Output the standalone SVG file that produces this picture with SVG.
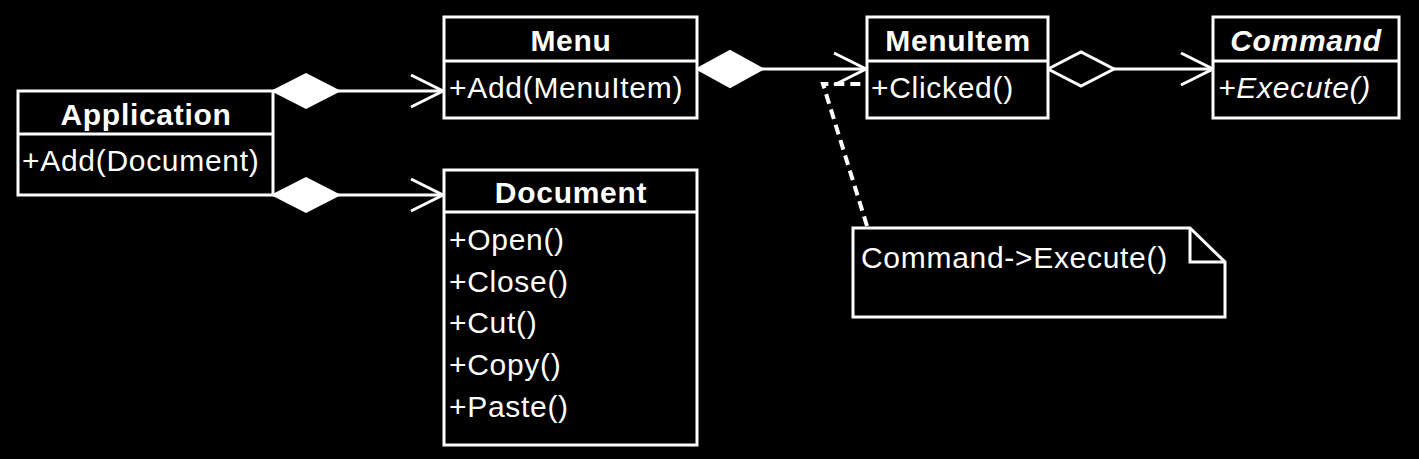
<svg xmlns="http://www.w3.org/2000/svg" width="1419" height="459" viewBox="0 0 1419 459">
<style>
.box{fill:#000;stroke:#fff;stroke-width:3}
.ln{fill:none;stroke:#fff;stroke-width:3}
.t{font-family:"Liberation Sans",Arial,sans-serif;font-size:30px;fill:#fff;letter-spacing:0.7px}
.b{font-weight:bold;text-anchor:middle}
.i{font-style:italic}
.dash{fill:none;stroke:#fff;stroke-width:4;stroke-dasharray:10 6}
</style>
<rect width="1419" height="459" fill="#000"/>
<g id="connectors">
<line class="ln" x1="273" y1="91" x2="443" y2="91"/>
<polygon points="273,91 306,74 339,91 306,108" fill="#fff" stroke="#fff" stroke-width="2"/>
<polyline class="ln" points="411,75 443,91 411,107"/>
<line class="ln" x1="273" y1="195" x2="443" y2="195"/>
<polygon points="273,195 306,178 339,195 306,212" fill="#fff" stroke="#fff" stroke-width="2"/>
<polyline class="ln" points="411,179 443,195 411,211"/>
<line class="ln" x1="697" y1="69" x2="866" y2="69"/>
<polygon points="697,69 730,51 763,69 730,87" fill="#fff" stroke="#fff" stroke-width="2"/>
<polyline class="ln" points="834,53 866,69 834,85"/>
<line class="ln" x1="1114" y1="69" x2="1213" y2="69"/>
<polygon points="1048,69 1081,52 1114,69 1081,86" fill="#000" stroke="#fff" stroke-width="3"/>
<polyline class="ln" points="1181,53 1213,69 1181,85"/>
<polyline class="dash" points="867,226 823,84 866,84"/>
</g>
<g id="Application">
<rect class="box" x="18" y="91" width="255" height="104"/>
<line class="ln" x1="18" y1="134" x2="273" y2="134"/>
<text class="t b" x="146" y="125">Application</text>
<text class="t" x="22" y="171">+Add(Document)</text>
</g>
<g id="Menu">
<rect class="box" x="444" y="17" width="253" height="101"/>
<line class="ln" x1="444" y1="61" x2="697" y2="61"/>
<text class="t b" x="571" y="51">Menu</text>
<text class="t" x="449" y="98">+Add(MenuItem)</text>
</g>
<g id="Document">
<rect class="box" x="444" y="170" width="253" height="275"/>
<line class="ln" x1="444" y1="212" x2="697" y2="212"/>
<text class="t b" x="571" y="203">Document</text>
<text class="t" x="449" y="250">+Open()</text>
<text class="t" x="449" y="292">+Close()</text>
<text class="t" x="449" y="333">+Cut()</text>
<text class="t" x="449" y="375">+Copy()</text>
<text class="t" x="449" y="417">+Paste()</text>
</g>
<g id="MenuItem">
<rect class="box" x="867" y="17" width="181" height="101"/>
<line class="ln" x1="867" y1="61" x2="1048" y2="61"/>
<text class="t b" x="958" y="51">MenuItem</text>
<text class="t" x="871" y="98">+Clicked()</text>
</g>
<g id="Command">
<rect class="box" x="1213" y="17" width="186" height="101"/>
<line class="ln" x1="1213" y1="61" x2="1399" y2="61"/>
<text class="t b i" x="1306" y="51">Command</text>
<text class="t i" x="1218" y="98">+Execute()</text>
</g>
<g id="Note">
<path class="box" d="M853,228 H1190 L1225,262 V317 H853 Z"/>
<polyline class="ln" points="1190,228 1190,262 1225,262"/>
<text class="t" x="861" y="268">Command-&gt;Execute()</text>
</g>
</svg>
